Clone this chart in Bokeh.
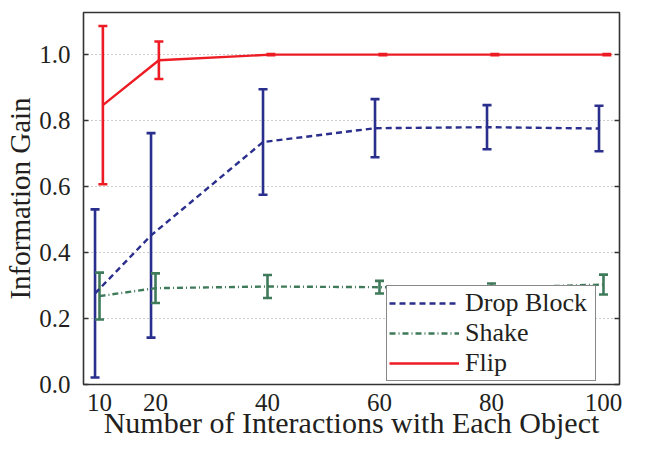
from bokeh.plotting import figure
from bokeh.models import (ColumnDataSource, Whisker, TeeHead, FixedTicker, NumeralTickFormatter,
                          Range1d, LinearAxis, Legend, LegendItem)
from bokeh.embed import file_html
from bokeh.resources import INLINE

# ---- data ----
interactions = [10, 20, 40, 60, 80, 100]

drop_mean = [0.276, 0.452, 0.735, 0.777, 0.780, 0.776]
drop_err = [0.255, 0.310, 0.160, 0.088, 0.067, 0.069]

shake_mean = [0.268, 0.292, 0.297, 0.295, 0.293, 0.303]
shake_err = [0.071, 0.045, 0.035, 0.019, 0.013, 0.030]

flip_mean = [0.847, 0.983, 1.000, 1.000, 1.000, 1.000]
flip_err = [0.240, 0.057, 0.002, 0.002, 0.002, 0.002]

x_ticks = [10, 20, 40, 60, 80, 100]
y_ticks = [0.0, 0.2, 0.4, 0.6, 0.8, 1.0]

series_names = ["Drop Block", "Shake", "Flip"]

# ---- styling ----
FONT = "Liberation Serif"
TEXT = "#231f20"
BLUE = "#2a2e8c"
GREEN = "#3f7a5a"
RED = "#ed1c24"

p = figure(width=654, height=441, output_backend="svg", toolbar_location=None,
           x_range=Range1d(7.14, 102.86), y_range=Range1d(0.0, 1.1277),
           min_border_left=83, min_border_right=35, min_border_top=12, min_border_bottom=55)
p.background_fill_color = "white"
p.border_fill_color = "white"
p.outline_line_color = "#333333"
p.outline_line_width = 1.6
p.outline_line_alpha = 1.0

series = [
    (drop_mean, drop_err, -0.8, BLUE, "6 4", series_names[0]),
    (shake_mean, shake_err, 0.0, GREEN, "6 3 1 3", series_names[1]),
    (flip_mean, flip_err, 0.6, RED, "solid", series_names[2]),
]

items = []
for mean, err, off, col, dash, name in series:
    xs = [x + off for x in interactions]
    src = ColumnDataSource(dict(x=xs, y=mean,
                                upper=[m + e for m, e in zip(mean, err)],
                                lower=[m - e for m, e in zip(mean, err)]))
    r = p.line("x", "y", source=src, line_color=col, line_width=2.4, line_dash=dash)
    w = Whisker(source=src, base="x", upper="upper", lower="lower", dimension="height",
                line_color=col, line_width=2.6,
                upper_head=TeeHead(size=9, line_color=col, line_width=2.6),
                lower_head=TeeHead(size=9, line_color=col, line_width=2.6))
    p.add_layout(w)
    items.append(LegendItem(label=name, renderers=[r]))

# axes
p.xaxis.ticker = FixedTicker(ticks=x_ticks)
p.yaxis.ticker = FixedTicker(ticks=y_ticks)
p.yaxis.formatter = NumeralTickFormatter(format="0.0")
p.xgrid.visible = False
p.ygrid.ticker = FixedTicker(ticks=y_ticks)
p.ygrid.grid_line_color = "#9a9a9a"
p.ygrid.grid_line_dash = "1 3"
p.ygrid.grid_line_width = 1

for ax in [p.xaxis[0], p.yaxis[0]]:
    ax.axis_line_color = None
    ax.major_label_text_font = FONT
    ax.major_label_text_font_size = "25px"
    ax.major_label_text_color = TEXT
    ax.axis_label_text_font = FONT
    ax.axis_label_text_font_style = "normal"
    ax.axis_label_text_color = TEXT
    ax.minor_tick_line_color = None

xa = p.xaxis[0]
xa.major_tick_line_color = None
xa.major_tick_in = 0
xa.major_tick_out = 0
xa.major_label_standoff = 9
xa.axis_label = "Number of Interactions with Each Object"
xa.axis_label_text_font_size = "30px"
xa.axis_label_standoff = -8

p.yaxis.major_tick_in = 5
p.yaxis.major_tick_out = 0
p.yaxis.major_tick_line_color = "#333333"
p.yaxis.major_tick_line_width = 1.5
p.yaxis.major_label_standoff = 13
p.yaxis.axis_label = "Information Gain"
p.yaxis.axis_label_text_font_size = "29px"
p.yaxis.axis_label_standoff = 0

right = LinearAxis(ticker=FixedTicker(ticks=y_ticks), axis_line_color=None,
                   major_tick_in=5, major_tick_out=0, major_tick_line_color="#333333",
                   major_tick_line_width=1.5, minor_tick_line_color=None,
                   major_label_standoff=0, axis_label_standoff=0,
                   major_label_text_font_size="1px", major_label_text_alpha=0.0)
p.add_layout(right, "right")

legend = Legend(items=items, location=(303, 3), orientation="vertical",
                label_text_font=FONT, label_text_font_size="26px", label_text_color=TEXT,
                glyph_width=70, glyph_height=20, label_height=20, label_standoff=6,
                label_width=128, spacing=0, padding=2, margin=0,
                border_line_color="#111111", border_line_width=1.5,
                background_fill_color="white", background_fill_alpha=1.0)
p.add_layout(legend, "center")

open("out.html", "w").write(file_html(p, INLINE))
